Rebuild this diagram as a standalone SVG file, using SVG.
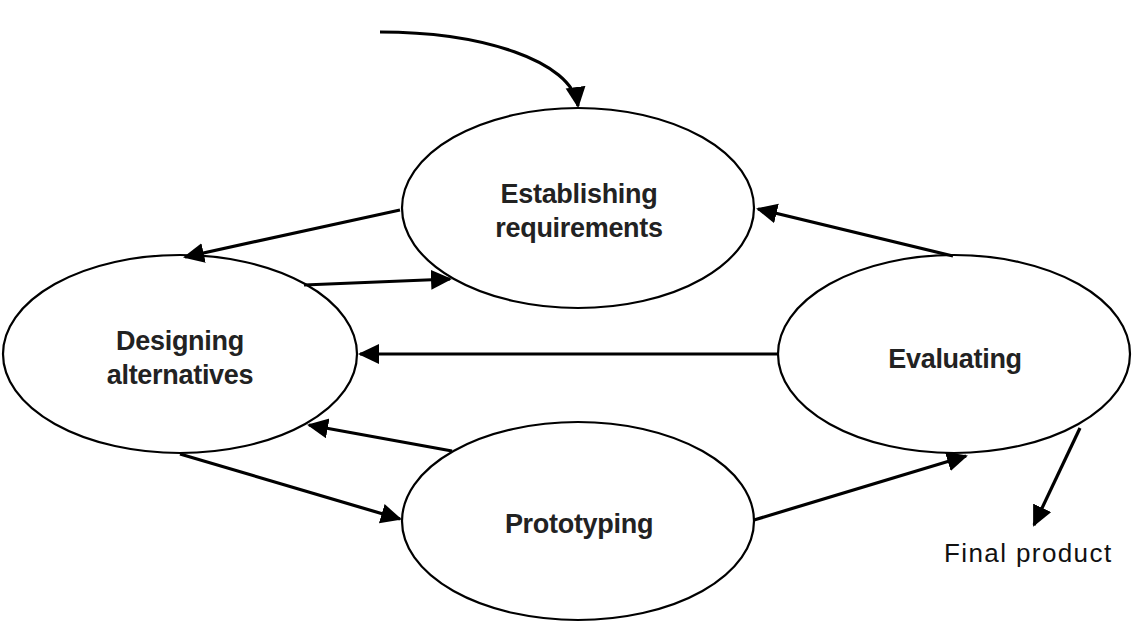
<svg xmlns="http://www.w3.org/2000/svg" width="1148" height="638" viewBox="0 0 1148 638">
<style>
.node ellipse{fill:#fff;stroke:#000;stroke-width:2.2}
.lbl{font-family:"Liberation Sans",Arial,sans-serif;font-weight:bold;font-size:27px;fill:#222;text-anchor:middle;letter-spacing:-0.3px}
.edge{fill:none;stroke:#000;stroke-width:3.2;marker-end:url(#ah)}
.plain{font-family:"Liberation Sans",Arial,sans-serif;font-size:26px;fill:#111;letter-spacing:1.4px}
</style>
<defs>
<marker id="ah" markerUnits="userSpaceOnUse" markerWidth="24" markerHeight="22" refX="19" refY="10" orient="auto">
<path d="M0,0 L21,10 L0,20 z" fill="#000"/>
</marker>
</defs>
<rect width="1148" height="638" fill="#fff"/>
<g id="node-establishing" class="node">
<ellipse cx="578" cy="208" rx="176" ry="100"/>
<text class="lbl" x="579" y="203">Establishing</text>
<text class="lbl" x="579" y="237">requirements</text>
</g>
<g id="node-designing" class="node">
<ellipse cx="180" cy="354" rx="177" ry="99"/>
<text class="lbl" x="180" y="350">Designing</text>
<text class="lbl" x="180" y="384">alternatives</text>
</g>
<g id="node-evaluating" class="node">
<ellipse cx="954" cy="354" rx="176" ry="99"/>
<text class="lbl" x="955" y="368">Evaluating</text>
</g>
<g id="node-prototyping" class="node">
<ellipse cx="578" cy="521" rx="176" ry="99"/>
<text class="lbl" x="579" y="533">Prototyping</text>
</g>
<g id="final-product">
<text class="plain" x="944" y="562">Final product</text>
</g>
<g id="connectors">
<path class="edge" d="M380,32 C480,32 572,60 578,106"/>
<path class="edge" d="M400,210 L185,257"/>
<path class="edge" d="M304,285 L450,279"/>
<path class="edge" d="M953,256 L758,209"/>
<path class="edge" d="M777,354 L360,354"/>
<path class="edge" d="M452,451 L309,425"/>
<path class="edge" d="M180,454 L400,519"/>
<path class="edge" d="M754,520 L966,456"/>
<path class="edge" d="M1080,428 L1034,525"/>
</g>
</svg>
